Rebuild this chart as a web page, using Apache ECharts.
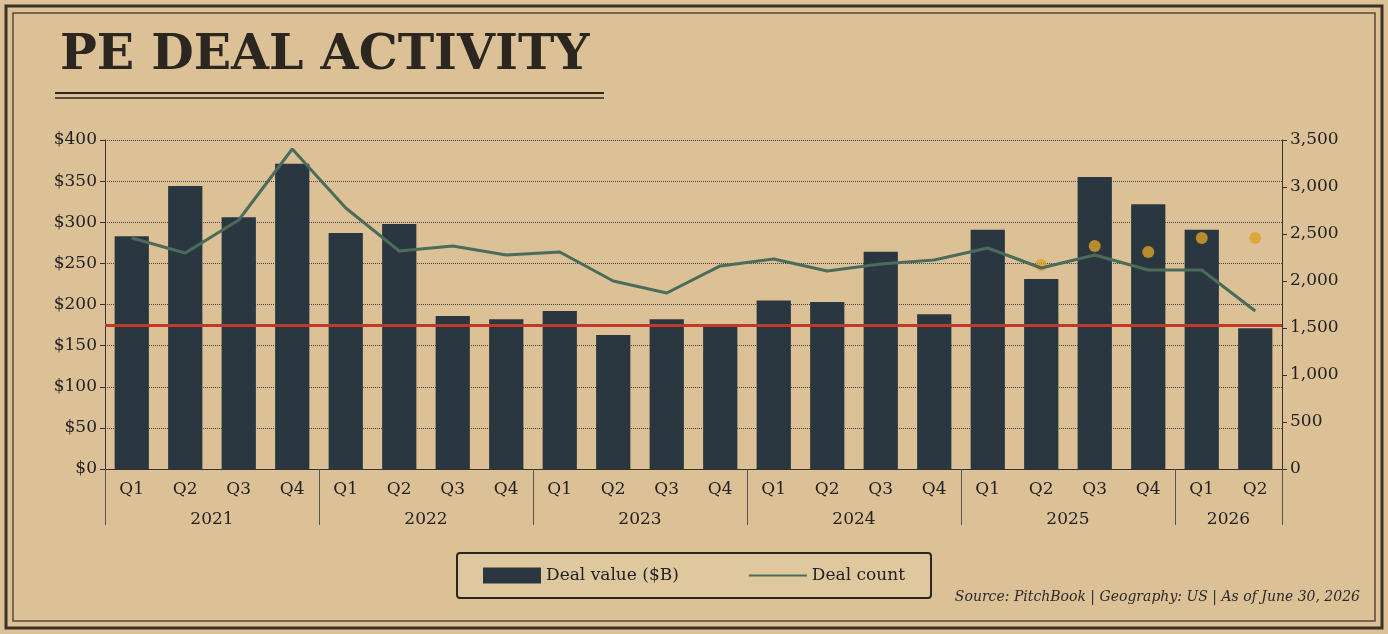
<!DOCTYPE html>
<html><head><meta charset="utf-8">
<script src="https://cdn.jsdelivr.net/npm/echarts@6/dist/echarts.min.js"></script>
<style>html,body{margin:0;padding:0;background:#dcc197;}#c{width:1388px;height:634px;}</style>
</head><body><div id="c"></div>
<script>
const quarters=['Q1','Q2','Q3','Q4','Q1','Q2','Q3','Q4','Q1','Q2','Q3','Q4','Q1','Q2','Q3','Q4','Q1','Q2','Q3','Q4','Q1','Q2'];
const years=['2021','2022','2023','2024','2025','2026'];
const yearCenters=[2,6,10,14,18,21];
const yearBounds=[0,4,8,12,16,20,22];
const dealValue=[283,344,306,371,287,298,186,182,192,163,182,174,205,203,264,188,291,231,355,322,291,171];
const dealCount=[2457,2298,2649,3404,2777,2319,2372,2277,2309,2000,1872,2160,2234,2106,2181,2223,2351,2138,2277,2117,2117,1681];
const dotIdx=[17,18,19,20,21];
const dotVals=[2170,2372,2309,2457,2457];
const refValue=175;
const serif='"DejaVu Serif", "Liberation Serif", serif';
const chart=echarts.init(document.getElementById('c'));
chart.setOption({
 backgroundColor:'#dcc197',
 textStyle:{fontFamily:serif,color:'#2a2a2a'},
 graphic:[
  {type:'rect',shape:{x:6,y:6,width:1376,height:622},style:{fill:'none',stroke:'#3a3128',lineWidth:3}},
  {type:'rect',shape:{x:13,y:13,width:1362,height:608},style:{fill:'none',stroke:'#5a4a38',lineWidth:1.5}},
  {type:'text',left:60,top:32,style:{text:'PE DEAL ACTIVITY',font:'900 49px "DejaVu Serif", serif',fill:'#2b2620'}},
  {type:'line',shape:{x1:55,y1:93,x2:604,y2:93},style:{stroke:'#2b2620',lineWidth:2}},
  {type:'line',shape:{x1:55,y1:98,x2:604,y2:98},style:{stroke:'#2b2620',lineWidth:1.5}},
  {type:'text',right:28,top:590,style:{text:'Source: PitchBook | Geography: US | As of June 30, 2026',font:'italic 14px '+serif,fill:'#2a2a2a'}}
 ],
 grid:{left:105,right:106,top:140,bottom:165},
 legend:{bottom:36,left:'center',itemGap:70,padding:[14,26],borderColor:'#2b2620',borderWidth:2,borderRadius:3,backgroundColor:'rgba(230,210,170,0.4)',
  textStyle:{fontSize:17,fontFamily:serif,color:'#222'},itemWidth:58,itemHeight:16,
  data:[{name:'Deal value ($B)',icon:'rect'},{name:'Deal count',icon:'path://M0 7 L60 7 L60 9 L0 9 Z'}]},
 xAxis:[
  {type:'category',data:quarters,position:'bottom',axisLine:{lineStyle:{color:'#333'}},axisTick:{length:36,lineStyle:{color:'#555'}},axisLabel:{fontSize:17,color:'#222',margin:12}},
  {type:'value',min:0,max:22,position:'bottom',axisLine:{show:false},splitLine:{show:false},
   axisTick:{show:true,customValues:yearBounds,length:56,lineStyle:{color:'#555'}},
   axisLabel:{customValues:yearCenters,margin:42,fontSize:17,color:'#222',formatter:v=>years[yearCenters.indexOf(v)]||''}}
 ],
 yAxis:[
  {type:'value',min:0,max:400,interval:50,axisLine:{show:true,lineStyle:{color:'#333'}},axisTick:{show:true,lineStyle:{color:'#333'}},
   axisLabel:{formatter:'${value}',fontSize:17,color:'#222'},splitLine:{lineStyle:{type:'dotted',color:'#444'}}},
  {type:'value',min:0,max:3500,interval:500,axisLine:{show:true,lineStyle:{color:'#333'}},axisTick:{show:true,lineStyle:{color:'#333'}},
   axisLabel:{formatter:v=>v.toLocaleString('en-US'),fontSize:17,color:'#222'},splitLine:{show:false}}
 ],
 series:[
  {name:'Deal value ($B)',type:'bar',data:dealValue,barWidth:'64%',itemStyle:{color:'#2a3741'},
   markLine:{symbol:'none',silent:true,label:{show:false},lineStyle:{color:'#c0392b',width:3,type:'solid'},data:[{yAxis:refValue}]}},
  {name:'Deal count',type:'line',yAxisIndex:1,data:dealCount,symbol:'none',z:3,lineStyle:{color:'#4b6b5b',width:3},itemStyle:{color:'#4b6b5b'}},
  {name:'dots',type:'scatter',yAxisIndex:1,data:dotIdx.map((i,k)=>[i,dotVals[k]]),symbolSize:12,itemStyle:{color:'#dca128'}}
 ]
});
</script></body></html>
